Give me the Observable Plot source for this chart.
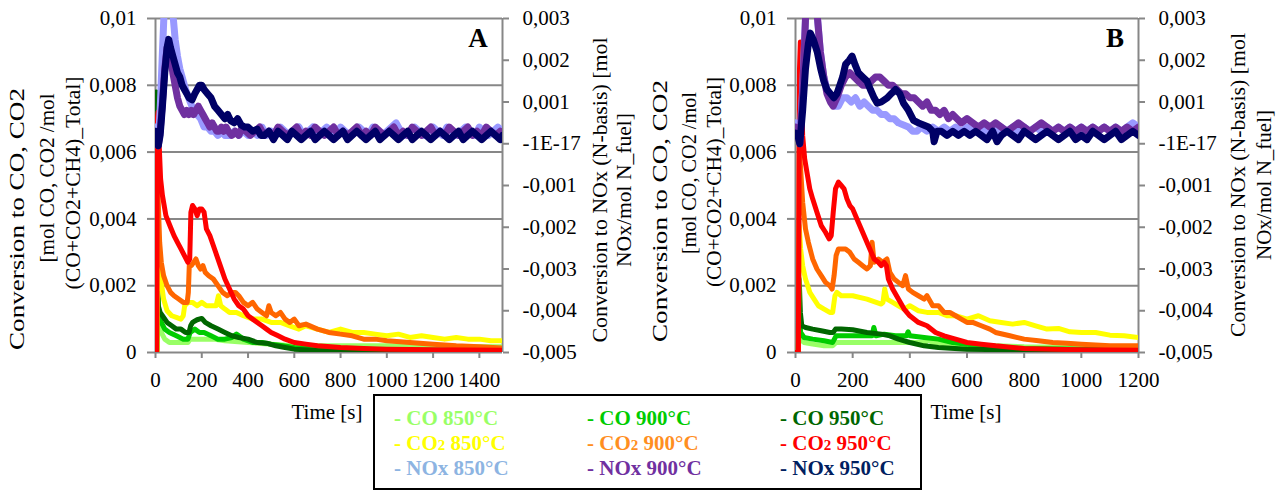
<!DOCTYPE html>
<html><head><meta charset="utf-8">
<script src="https://cdn.jsdelivr.net/npm/d3@7"></script>
<script src="https://cdn.jsdelivr.net/npm/@observablehq/plot@0.6"></script>
<style>
html,body{margin:0;padding:0;background:#fff;}
#wrap{position:relative;width:1280px;height:491px;overflow:hidden;font-family:"Liberation Serif",serif;background:#fff;}
.panel{position:absolute;top:0;}
.panel svg text{font-family:"Liberation Serif",serif !important;font-size:21px;}
#overlay{position:absolute;left:0;top:0;}
#overlay text{font-family:"Liberation Serif",serif;}
#legend{position:absolute;left:373px;top:394px;width:549px;height:96px;border:2px solid #000;box-sizing:border-box;background:#fff;}
.li{position:absolute;font-weight:bold;font-size:21px;line-height:24px;white-space:nowrap;font-family:"Liberation Serif",serif;}
.sub{font-size:15px;}
</style></head>
<body><div id="wrap"><div id="pA" class="panel" style="left:0"></div><div id="pB" class="panel" style="left:640px"></div><div id="legend"></div></div>
<script>
// ---------- DATA ----------
const leftTicks = [0, 0.002, 0.004, 0.006, 0.008, 0.01];
const noxTicks = [-0.005, -0.004, -0.003, -0.002, -0.001, 0, 0.001, 0.002, 0.003];
const xTicksA = [0, 200, 400, 600, 800, 1000, 1200, 1400];
const xTicksB = [0, 200, 400, 600, 800, 1000, 1200];
const xMaxA = 1500, xMaxB = 1200;

// Panel A  (time s, value)
const A_CO850 = [[0,0],[6,0],[9,0.0012],[15,0.0008],[25,0.0006],[40,0.0004],[60,0.0003],[100,0.0003],[140,0.0003],[150,0.0004],[200,0.0004],[250,0.0004],[300,0.00035],[400,0.0003],[500,0.00025],[600,0.0002],[700,0.0002],[800,0.0002],[1000,0.0002],[1200,0.00018],[1500,0.00017]];
const A_CO900 = [[0,0],[6,0],[9,0.0018],[15,0.0011],[25,0.0009],[40,0.0007],[60,0.0006],[90,0.0005],[120,0.0004],[140,0.0004],[150,0.0006],[170,0.0007],[190,0.0006],[210,0.0006],[240,0.0005],[270,0.0004],[300,0.0004],[330,0.00045],[350,0.00055],[380,0.0004],[420,0.0003],[460,0.0003],[500,0.00025],[550,0.0002],[600,0.00015],[700,0.0001],[800,0.0001],[1000,0.00008],[1200,0.00007],[1500,0.00006]];
const A_CO950 = [[0,0],[4,0.0078],[7,0.0075],[9,0.002],[12,0.0014],[20,0.0012],[30,0.0011],[50,0.0009],[70,0.0008],[90,0.0007],[110,0.0007],[130,0.0006],[145,0.0006],[152,0.0008],[160,0.0009],[180,0.00098],[200,0.00102],[215,0.0009],[240,0.0008],[270,0.0007],[300,0.0006],[330,0.0005],[360,0.00045],[400,0.0004],[440,0.0003],[480,0.00028],[520,0.0002],[560,0.00015],[600,0.0001],[700,0.00006],[800,0.00004],[1000,0.00003],[1500,0.00002]];
const A_CO2_850 = [[0,0],[6,0],[9,0.0027],[15,0.0024],[25,0.0021],[35,0.0016],[50,0.00125],[70,0.0011],[90,0.00105],[110,0.001],[120,0.0011],[126,0.0014],[140,0.0015],[160,0.0015],[180,0.0014],[200,0.0015],[220,0.0014],[240,0.0014],[262,0.0014],[272,0.0017],[282,0.0014],[300,0.0013],[320,0.0012],[350,0.0012],[380,0.0011],[420,0.001],[460,0.001],[500,0.0009],[540,0.0009],[580,0.0008],[620,0.0007],[650,0.0008],[700,0.0007],[750,0.0006],[800,0.0007],[850,0.0006],[900,0.0006],[950,0.00055],[1000,0.0005],[1050,0.00055],[1100,0.00045],[1150,0.0005],[1200,0.00045],[1250,0.0004],[1300,0.00045],[1350,0.0004],[1400,0.0004],[1450,0.00035],[1500,0.00035]];
const A_CO2_900 = [[0,0],[5,0],[8,0.0055],[12,0.0045],[18,0.0033],[25,0.0027],[35,0.0023],[50,0.002],[65,0.0018],[80,0.0017],[100,0.0016],[120,0.0015],[137,0.0015],[142,0.0018],[146,0.0026],[155,0.0026],[165,0.0027],[175,0.0028],[185,0.0026],[195,0.0025],[205,0.0026],[215,0.0024],[230,0.0023],[250,0.0022],[270,0.002],[290,0.0018],[310,0.0017],[330,0.0018],[345,0.0018],[360,0.0017],[380,0.0015],[400,0.0014],[420,0.0015],[440,0.0013],[460,0.0012],[480,0.0011],[490,0.0014],[500,0.0012],[520,0.0011],[540,0.0012],[560,0.001],[580,0.0009],[600,0.001],[620,0.0008],[650,0.00085],[700,0.0007],[750,0.0006],[800,0.00055],[850,0.0005],[900,0.0004],[950,0.0004],[1000,0.00035],[1100,0.0003],[1200,0.00025],[1300,0.0002],[1400,0.00017],[1500,0.00013]];
const A_CO2_950 = [[0,0],[5,0],[8,0.007],[11,0.0072],[16,0.0062],[22,0.0052],[30,0.0047],[45,0.0041],[65,0.00375],[80,0.0035],[95,0.0033],[110,0.0031],[125,0.0029],[140,0.0027],[148,0.0028],[153,0.0042],[160,0.0044],[170,0.0043],[180,0.0041],[190,0.0043],[200,0.0043],[210,0.0042],[220,0.0037],[235,0.0035],[245,0.0033],[260,0.003],[280,0.0026],[300,0.0022],[320,0.0019],[340,0.0016],[360,0.0014],[380,0.0013],[400,0.0011],[420,0.001],[440,0.0009],[460,0.0008],[480,0.0007],[500,0.0006],[530,0.0005],[560,0.0004],[600,0.0003],[650,0.00025],[700,0.0002],[800,0.00015],[900,0.00012],[1000,0.0001],[1200,0.00008],[1500,0.00007]];
// NOx values on right axis (mol NOx / mol N_fuel)
const A_NOx850 = [[0,0.0004],[6,0.0003],[12,0],[20,0.0008],[30,0.0022],[36,0.003],[45,0.0045],[55,0.005],[65,0.0043],[77,0.003],[85,0.0025],[95,0.0021],[105,0.0018],[115,0.0016],[130,0.0013],[150,0.001],[165,0.0008],[180,0.0007],[195,0.0006],[210,0.0004],[225,0.0004],[240,0.0003],[255,0.0003],[270,0.0002],[285,0.0003],[300,0.0002],[320,0.0002],[340,0.0003],[360,0.0002],[380,0.0003],[400,0.0002],[420,0.0003],[440,0.0002],[460,0.0004],[480,0.0002],[500,0.0003],[520,0.0002],[540,0.0004],[560,0.0003],[580,0.0002],[600,0.0003],[620,0.0004],[640,0.0002],[660,0.0003],[680,0.0004],[700,0.0002],[720,0.0003],[740,0.0004],[760,0.0003],[780,0.0002],[800,0.0004],[820,0.0003],[840,0.0002],[860,0.0003],[880,0.0004],[900,0.0003],[920,0.0002],[940,0.0004],[960,0.0003],[980,0.0002],[1000,0.0003],[1020,0.0004],[1040,0.0005],[1060,0.0003],[1080,0.0002],[1100,0.0003],[1120,0.0004],[1140,0.0003],[1160,0.0002],[1180,0.0003],[1200,0.0004],[1220,0.0003],[1240,0.0002],[1260,0.0004],[1280,0.0003],[1300,0.0002],[1320,0.0003],[1340,0.0004],[1360,0.0003],[1380,0.0002],[1400,0.0004],[1420,0.0003],[1440,0.0002],[1460,0.0003],[1480,0.0004],[1500,0.0003]];
const A_NOx900 = [[0,0.0002],[6,0.0001],[12,-0.00005],[20,0.0003],[30,0.001],[40,0.0018],[50,0.0023],[57,0.0024],[65,0.0021],[75,0.0017],[85,0.0014],[95,0.0011],[105,0.0009],[115,0.0008],[125,0.0007],[135,0.0008],[145,0.0007],[155,0.0008],[165,0.0007],[175,0.0008],[185,0.0009],[195,0.0008],[205,0.0007],[215,0.0006],[225,0.0005],[235,0.0004],[245,0.0005],[255,0.0004],[265,0.0003],[275,0.0003],[285,0.0004],[295,0.0003],[305,0.0004],[315,0.0003],[330,0.0002],[345,0.0003],[360,0.0002],[375,0.0004],[390,0.0003],[410,0.0002],[430,0.0003],[450,0.0004],[470,0.0002],[490,0.0003],[510,0.0002],[530,0.0004],[550,0.0003],[570,0.0002],[590,0.0003],[610,0.0004],[630,0.0002],[650,0.0003],[670,0.0002],[690,0.0004],[710,0.0003],[730,0.0002],[750,0.0003],[770,0.0004],[790,0.0002],[810,0.0003],[830,0.0002],[850,0.0003],[870,0.0004],[890,0.0002],[910,0.0003],[930,0.0002],[950,0.0004],[970,0.0003],[990,0.0002],[1010,0.0003],[1030,0.0004],[1050,0.0002],[1070,0.0003],[1090,0.0002],[1110,0.0004],[1130,0.0003],[1150,0.0002],[1170,0.0003],[1190,0.0004],[1210,0.0002],[1230,0.0003],[1250,0.0002],[1270,0.0004],[1290,0.0003],[1310,0.0002],[1330,0.0003],[1350,0.0004],[1370,0.0002],[1390,0.0003],[1410,0.0002],[1430,0.0004],[1450,0.0003],[1470,0.0002],[1490,0.0003],[1500,0.0002]];
const A_NOx950 = [[0,0.0003],[6,0.0002],[12,-0.00005],[20,0.0002],[30,0.0009],[40,0.0017],[50,0.0023],[57,0.0025],[65,0.0023],[75,0.0021],[85,0.0019],[95,0.0017],[105,0.0016],[115,0.0014],[125,0.0013],[135,0.0012],[145,0.0011],[158,0.00105],[170,0.0012],[180,0.0013],[190,0.0014],[200,0.0014],[210,0.0013],[225,0.0012],[240,0.0011],[255,0.0009],[270,0.0008],[285,0.0007],[300,0.0006],[312,0.0007],[325,0.00055],[340,0.0005],[355,0.0006],[370,0.00045],[385,0.0004],[400,0.0004],[420,0.0003],[440,0.00035],[455,0.0002],[470,0.0002],[490,0.0003],[510,0.0001],[530,0.0003],[550,0.0002],[570,0.0001],[590,0.0003],[610,0.0002],[630,0.0001],[650,0.0002],[670,0.0003],[690,0.0001],[710,0.0002],[730,0.0003],[750,0.0002],[770,0.0001],[790,0.0002],[810,0.0003],[830,0.0001],[850,0.0002],[870,0.0003],[890,0.0002],[910,0.0001],[930,0.0002],[950,0.0003],[970,0.0001],[990,0.0002],[1010,0.0003],[1030,0.0002],[1050,0.0001],[1070,0.0002],[1090,0.0003],[1110,0.0001],[1130,0.0002],[1150,0.0003],[1170,0.0002],[1190,0.0001],[1210,0.0002],[1230,0.0003],[1250,0.0002],[1270,0.0001],[1290,0.0002],[1310,0.0003],[1330,0.0001],[1350,0.0002],[1370,0.0003],[1390,0.0002],[1410,0.0001],[1430,0.0002],[1450,0.0003],[1470,0.0002],[1490,0.0001],[1500,0.0002]];

// Panel B
const B_CO850 = [[0,0],[10,0],[13,0.0009],[18,0.0004],[30,0.0003],[60,0.00025],[100,0.0002],[130,0.0002],[142,0.0003],[200,0.0003],[300,0.0003],[400,0.0003],[455,0.0003],[465,0.0004],[478,0.0003],[550,0.00025],[600,0.0002],[700,0.0002],[800,0.00017],[1000,0.00015],[1200,0.00013]];
const B_CO900 = [[0,0],[10,0],[13,0.0012],[18,0.0006],[30,0.00045],[60,0.0004],[100,0.00035],[130,0.0003],[142,0.0005],[180,0.0005],[230,0.0005],[268,0.0005],[274,0.00075],[282,0.0005],[310,0.00055],[350,0.0005],[388,0.0005],[394,0.00062],[400,0.0005],[450,0.00045],[500,0.0004],[550,0.0003],[600,0.00025],[700,0.00015],[800,0.00012],[1000,0.0001],[1200,0.0001]];
const B_CO950 = [[0,0],[10,0],[13,0.0022],[17,0.0012],[22,0.0008],[35,0.00075],[60,0.0007],[90,0.00065],[120,0.0006],[132,0.0006],[140,0.0007],[160,0.0007],[200,0.00068],[250,0.0006],[300,0.00055],[330,0.0005],[360,0.0004],[400,0.0003],[450,0.0002],[500,0.00015],[600,0.0001],[800,0.00007],[1000,0.00005],[1200,0.00005]];
const B_CO2_850 = [[0,0],[10,0],[13,0.0038],[18,0.0031],[25,0.0026],[35,0.0022],[50,0.0018],[65,0.0016],[80,0.0014],[100,0.0013],[120,0.0012],[130,0.0012],[138,0.0017],[145,0.0018],[160,0.0017],[200,0.0017],[250,0.0016],[300,0.00145],[306,0.0015],[312,0.0019],[320,0.0016],[340,0.0015],[360,0.0014],[380,0.0013],[400,0.0014],[430,0.00125],[460,0.0012],[500,0.0012],[530,0.0011],[560,0.0011],[600,0.001],[640,0.0011],[680,0.00095],[720,0.0009],[760,0.00085],[800,0.0009],[840,0.0008],[880,0.0007],[920,0.00072],[960,0.00062],[1000,0.0006],[1050,0.0006],[1100,0.00052],[1150,0.0005],[1200,0.00045]];
const B_CO2_900 = [[0,0],[10,0],[13,0.0062],[18,0.0055],[25,0.0045],[35,0.0037],[45,0.0033],[60,0.0028],[75,0.0025],[90,0.0023],[105,0.0021],[120,0.002],[128,0.0019],[135,0.0023],[142,0.0029],[150,0.0031],[160,0.0031],[175,0.0031],[190,0.003],[205,0.0028],[220,0.0027],[235,0.0026],[250,0.0025],[262,0.0026],[268,0.0033],[275,0.0027],[290,0.0028],[305,0.0027],[320,0.0028],[330,0.0024],[345,0.0022],[360,0.0021],[375,0.002],[385,0.0023],[395,0.0019],[410,0.0018],[430,0.0017],[450,0.0016],[460,0.0017],[480,0.0014],[500,0.0014],[520,0.0012],[540,0.0012],[560,0.0011],[580,0.001],[600,0.0009],[620,0.0009],[650,0.0008],[680,0.0007],[700,0.0006],[750,0.0005],[800,0.0004],[850,0.00035],[900,0.0003],[950,0.00028],[1000,0.00025],[1100,0.0002],[1200,0.0002]];
const B_CO2_950 = [[0,0],[10,0],[14,0.0085],[17,0.0093],[20,0.008],[25,0.0065],[32,0.0058],[40,0.0054],[50,0.0049],[60,0.0046],[75,0.0042],[90,0.0038],[105,0.0036],[118,0.0034],[125,0.0035],[132,0.0042],[140,0.0049],[150,0.0051],[160,0.005],[170,0.0049],[180,0.0046],[190,0.0044],[200,0.0043],[215,0.004],[230,0.0037],[245,0.0034],[260,0.0031],[275,0.0028],[290,0.0027],[300,0.0026],[310,0.0027],[318,0.0026],[325,0.0022],[340,0.0019],[360,0.0016],[380,0.0013],[400,0.0011],[430,0.0009],[460,0.0008],[490,0.0006],[520,0.0005],[560,0.0004],[600,0.0003],[650,0.00025],[700,0.0002],[800,0.00012],[900,0.0001],[1000,0.00008],[1200,0.00007]];
const B_NOx850 = [[0,0.0005],[8,0.0004],[15,0.0001],[25,0.0013],[35,0.003],[45,0.0042],[55,0.0044],[65,0.0038],[77,0.003],[87,0.0022],[99,0.0016],[110,0.0013],[122,0.0011],[135,0.0009],[150,0.0009],[165,0.0011],[180,0.0011],[195,0.001],[210,0.0011],[225,0.0009],[240,0.001],[255,0.0009],[270,0.0008],[285,0.0008],[300,0.0007],[315,0.0007],[330,0.0006],[345,0.0006],[360,0.0005],[378,0.00045],[395,0.0004],[410,0.0003],[425,0.0003],[440,0.0004],[460,0.0003],[480,0.0004],[500,0.0003],[520,0.0004],[540,0.0003],[560,0.0004],[580,0.0003],[600,0.0004],[620,0.0003],[640,0.0004],[660,0.0003],[680,0.0004],[700,0.0003],[720,0.0004],[740,0.0003],[760,0.0004],[780,0.0003],[800,0.0004],[820,0.0003],[840,0.0004],[860,0.0003],[880,0.0004],[900,0.0003],[920,0.0004],[940,0.0003],[960,0.0004],[980,0.0003],[1000,0.0004],[1020,0.0003],[1040,0.0004],[1060,0.0003],[1080,0.0004],[1100,0.0003],[1120,0.0004],[1140,0.0003],[1160,0.0004],[1180,0.0005],[1200,0.0004]];
const B_NOx900 = [[0,0.0004],[8,0.0003],[15,0],[25,0.0012],[35,0.003],[45,0.0038],[55,0.004],[65,0.0035],[77,0.003],[87,0.0022],[99,0.0016],[110,0.0012],[122,0.001],[132,0.0009],[145,0.0011],[160,0.0014],[175,0.0016],[190,0.0017],[205,0.0016],[220,0.0015],[235,0.0014],[250,0.0014],[265,0.0015],[280,0.0016],[295,0.0016],[310,0.0015],[325,0.0014],[340,0.0014],[355,0.0013],[370,0.0012],[385,0.0012],[400,0.0011],[415,0.0011],[430,0.001],[445,0.0009],[460,0.001],[475,0.0008],[490,0.0008],[505,0.0007],[520,0.0008],[535,0.0006],[550,0.0007],[565,0.0006],[580,0.0005],[600,0.0006],[620,0.0005],[640,0.0004],[660,0.0005],[680,0.0004],[700,0.0005],[720,0.0004],[740,0.0003],[760,0.0004],[780,0.0005],[800,0.0004],[820,0.0003],[840,0.0004],[860,0.0005],[880,0.0004],[900,0.0003],[920,0.0004],[940,0.0003],[960,0.0004],[980,0.0003],[1000,0.0004],[1020,0.0003],[1040,0.0004],[1060,0.0003],[1080,0.0004],[1100,0.0003],[1120,0.0004],[1140,0.0003],[1160,0.0004],[1180,0.0003],[1200,0.0004]];
const B_NOx950 = [[0,0.00025],[8,0.0002],[15,0],[25,0.0008],[35,0.0018],[45,0.0024],[52,0.00265],[62,0.0025],[76,0.0022],[88,0.0018],[99,0.0015],[110,0.0013],[122,0.0012],[134,0.0011],[145,0.0012],[155,0.0014],[165,0.0016],[175,0.0019],[188,0.002],[198,0.0021],[208,0.0019],[220,0.0017],[235,0.0016],[250,0.0015],[262,0.0013],[275,0.0011],[286,0.00097],[300,0.001],[321,0.0011],[335,0.0012],[350,0.0013],[365,0.0012],[378,0.00097],[395,0.0008],[413,0.00056],[430,0.0005],[448,0.00045],[465,0.0004],[480,0.0003],[485,0.00005],[495,0.0003],[510,0.0003],[530,0.0002],[550,0.0003],[570,0.0002],[590,0.0003],[610,0.0002],[630,0.0003],[650,0.0002],[670,0.0001],[690,0.0003],[705,0.00005],[720,0.0002],[740,0.0003],[760,0.0002],[780,0.0001],[800,0.0003],[820,0.0002],[840,0.0001],[860,0.0002],[880,0.0003],[900,0.0002],[920,0.0001],[940,0.0002],[960,0.0003],[980,0.0001],[1000,0.0002],[1020,0.0001],[1040,0.0003],[1060,0.0002],[1080,0.0001],[1100,0.0002],[1120,0.0003],[1140,0.0001],[1160,0.0002],[1180,0.0003],[1200,0.0002]];

const lineColors = {CO850:"#99ff66", CO900:"#00cc00", CO950:"#006600", CO2_850:"#ffff00", CO2_900:"#ff6600", CO2_950:"#ff0000", NOx850:"#9999ff", NOx900:"#7030a0", NOx950:"#000066"};
const legendItems = [
  ["CO", "850°C", "#99ff66"], ["CO", "900°C", "#00cc00"], ["CO", "950°C", "#006600"],
  ["CO2", "850°C", "#ffff00"], ["CO2", "900°C", "#ff8f1f"], ["CO2", "950°C", "#ff0000"],
  ["NOx", "850°C", "#8db4e2"], ["NOx", "900°C", "#7030a0"], ["NOx", "950°C", "#002060"]
];

// ---------- DRAW ----------
const toLeft = n => (n + 0.005) * 1.25; // right (NOx) axis -> left axis units
const fmtL = d => d === 0 ? "0" : String(+d.toFixed(3)).replace(".", ",");
const fmtR = d => { const n = Math.round((d / 1.25 - 0.005) * 1000) / 1000; return n === 0 ? "-1E-17" : n.toFixed(3).replace(".", ","); };
const grid = "#878787";
const FONT = "Liberation Serif";

function panel(series, xMax, xTicks, mr) {
  const lines = series.map(([arr, col, isNox]) =>
    Plot.line(arr, {x: d => d[0], y: d => isNox ? toLeft(d[1]) : d[1], stroke: col, strokeWidth: isNox ? 7 : 5, strokeLinejoin: "round", strokeLinecap: "round", clip: true}));
  const txt = {fontFamily: FONT, fontSize: 21, fill: "#000", stroke: grid, strokeWidth: 2, label: null};
  return Plot.plot({
    width: 640, height: 394, marginLeft: 155, marginRight: mr, marginTop: 18, marginBottom: 42,
    style: {fontFamily: FONT, fontSize: "21px", background: "transparent", color: "#000", overflow: "visible"},
    x: {domain: [0, xMax]},
    y: {domain: [0, 0.01]},
    marks: [
      Plot.ruleY(leftTicks, {stroke: grid, strokeWidth: 2}),
      Plot.ruleX([0, xMax], {stroke: grid, strokeWidth: 2}),
      Plot.axisY({...txt, ticks: leftTicks, tickSize: 8, tickPadding: 11, tickFormat: fmtL}),
      Plot.axisY({...txt, anchor: "right", ticks: noxTicks.map(toLeft), tickSize: 6, tickPadding: 14, tickFormat: fmtR}),
      Plot.axisX({...txt, ticks: xTicks, tickSize: 6, tickPadding: 14, tickFormat: d => String(d)}),
      ...lines
    ]
  });
}

const seriesA = [[A_CO850, lineColors.CO850], [A_CO900, lineColors.CO900], [A_CO950, lineColors.CO950],
  [A_CO2_850, lineColors.CO2_850], [A_CO2_900, lineColors.CO2_900], [A_CO2_950, lineColors.CO2_950],
  [A_NOx850, lineColors.NOx850, true], [A_NOx900, lineColors.NOx900, true], [A_NOx950, lineColors.NOx950, true]];
const seriesB = [[B_CO850, lineColors.CO850], [B_CO900, lineColors.CO900], [B_CO950, lineColors.CO950],
  [B_CO2_850, lineColors.CO2_850], [B_CO2_900, lineColors.CO2_900], [B_CO2_950, lineColors.CO2_950],
  [B_NOx850, lineColors.NOx850, true], [B_NOx900, lineColors.NOx900, true], [B_NOx950, lineColors.NOx950, true]];

document.getElementById("pA").appendChild(panel(seriesA, xMaxA, xTicksA, 138));
document.getElementById("pB").appendChild(panel(seriesB, xMaxB, xTicksB, 142));

// overlay text (titles, panel letters)
const svg = d3.select("#wrap").append("svg").attr("id", "overlay").attr("width", 1280).attr("height", 491);
const rot = [
  ["Conversion to CO, CO2", 17, 219, 262], ["[mol CO, CO2 /mol", 47, 178, 169], ["(CO+CO2+CH4)_Total]", 73, 183, 213],
  ["Conversion to NOx (N-basis) [mol", 600, 190, 305], ["NOx/mol N_fuel]", 624, 190, 154],
  ["Conversion to CO, CO2", 660, 211, 262], ["[mol CO, CO2 /mol", 689, 173, 162], ["(CO+CO2+CH4)_Total]", 714, 182, 210],
  ["Conversion to NOx (N-basis) [mol", 1238, 185, 304], ["NOx/mol N_fuel]", 1264, 185, 150]
];
for (const [t, x, y, len] of rot) {
  svg.append("text").attr("transform", `translate(${x},${y}) rotate(-90)`)
    .attr("text-anchor", "middle").attr("dominant-baseline", "central")
    .attr("font-size", 21).attr("textLength", len).attr("lengthAdjust", "spacingAndGlyphs").text(t);
}
for (const [t, x] of [["Time [s]", 327], ["Time [s]", 966]]) {
  svg.append("text").attr("x", x).attr("y", 412).attr("text-anchor", "middle").attr("dominant-baseline", "central").attr("font-size", 21).text(t);
}
for (const [t, x] of [["A", 478], ["B", 1115]]) {
  svg.append("text").attr("x", x).attr("y", 38).attr("text-anchor", "middle").attr("dominant-baseline", "central").attr("font-size", 27).attr("font-weight", "bold").text(t);
}

// legend
const leg = document.getElementById("legend");
legendItems.forEach(([g, temp, col], i) => {
  const el = document.createElement("div");
  el.className = "li";
  el.style.left = (19 + (i % 3) * 193) + "px";
  el.style.top = (10 + Math.floor(i / 3) * 25) + "px";
  el.style.color = col;
  if (g === "CO2") el.innerHTML = `- CO<span class="sub">2</span> ${temp}`;
  else el.textContent = `- ${g} ${temp}`;
  leg.appendChild(el);
});
</script></body></html>
